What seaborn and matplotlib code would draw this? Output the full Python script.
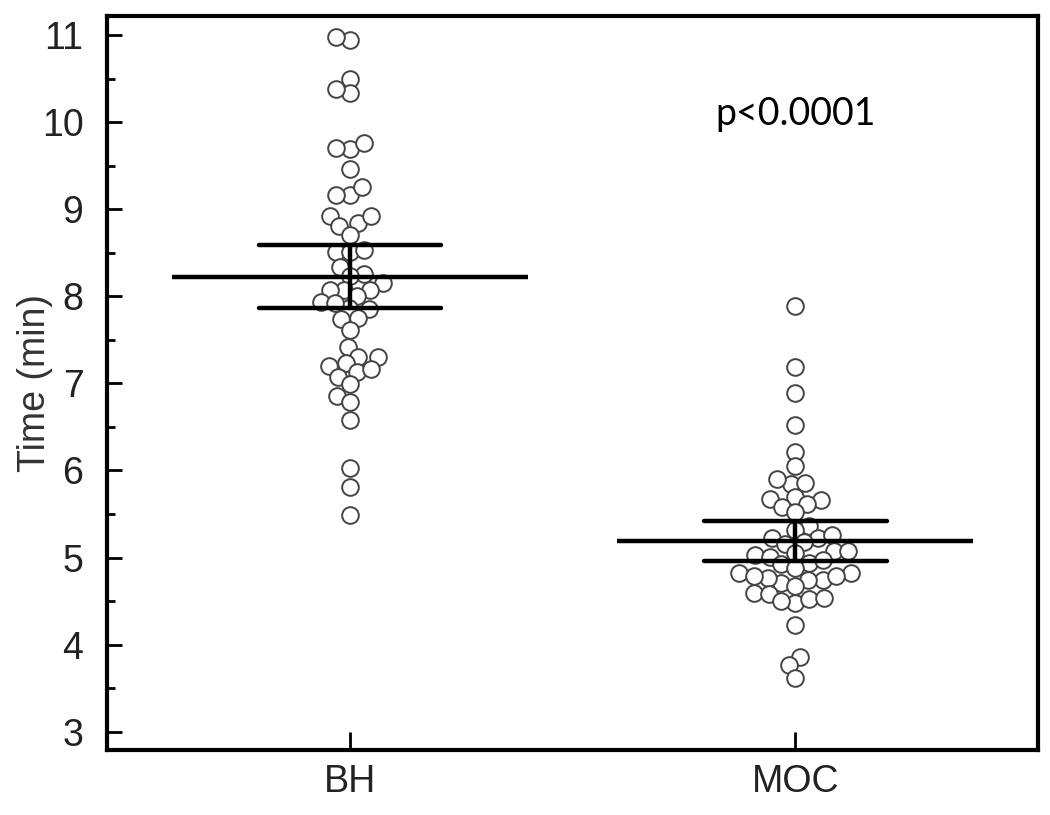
import numpy as np
import pandas as pd
import matplotlib
matplotlib.use("Agg")
import matplotlib.pyplot as plt
import seaborn as sns
from matplotlib.ticker import MultipleLocator

# ---------------- data ----------------
groups = ["BH", "MOC"]
bh_times = [10.95, 10.98, 10.50, 10.34, 10.38, 9.70, 9.71, 9.76, 9.46, 9.17,
            9.17, 9.26, 8.84, 8.92, 8.93, 8.81, 8.71, 8.51, 8.51, 8.53,
            8.34, 8.26, 8.23, 8.15, 8.07, 8.07, 8.07, 8.00, 7.94, 7.86,
            7.87, 7.92, 7.74, 7.75, 7.62, 7.42, 7.31, 7.31, 7.23, 7.13,
            7.17, 7.20, 7.08, 6.99, 6.86, 6.79, 6.58, 6.03, 5.81, 5.49]
moc_times = [7.89, 7.19, 6.89, 6.52, 6.21, 6.05, 5.85, 5.86, 5.90, 5.66,
             5.67, 5.70, 5.58, 5.61, 5.52, 5.36, 5.32, 5.22, 5.22, 5.26,
             5.16, 5.18, 5.07, 5.08, 5.03, 5.05, 4.94, 4.97, 5.01, 4.92,
             4.82, 4.82, 4.71, 4.74, 4.74, 4.76, 4.79, 4.79, 4.88, 4.59,
             4.67, 4.58, 4.48, 4.50, 4.52, 4.53, 4.23, 3.86, 3.76, 3.62]
p_text = "p<0.0001"
y_label = "Time (min)"

df = pd.DataFrame({
    "group": ["BH"] * len(bh_times) + ["MOC"] * len(moc_times),
    "time": bh_times + moc_times,
})

# ---------------- style ----------------
sns.set_theme(style="ticks")
plt.rcParams["font.family"] = ["Liberation Sans", "DejaVu Sans"]

DPI = 100
fig = plt.figure(figsize=(10.5, 8.15), dpi=DPI, facecolor="white")
ax = fig.add_axes([0.102, 0.080, 0.887, 0.900])
ax.set_facecolor("white")

XLIM = (-0.546, 1.546)
YLIM = (2.79, 11.22)

# swarm of individual points
sns.swarmplot(data=df, x="group", y="time", order=groups, size=8.5,
              color="white", edgecolor="#444444", linewidth=1.4,
              ax=ax, zorder=2)
swarm_colls = list(ax.collections)

ax.set_xlim(*XLIM)
ax.set_ylim(*YLIM)
fig.canvas.draw()
# freeze swarm layout, then enlarge markers so they overlap as in the original
for coll in swarm_colls:
    if "draw" in coll.__dict__:
        del coll.draw
    coll.set_sizes([12.0 ** 2])


def ci95(v):
    v = np.asarray(v, dtype=float)
    m = v.mean()
    h = 2.01 * v.std(ddof=1) / np.sqrt(len(v))
    return (m - h, m + h)


unit_px = ax.get_window_extent().width / (XLIM[1] - XLIM[0])
mean_len_pt = 0.80 * unit_px * 72 / DPI

sns.pointplot(data=df, x="group", y="time", order=groups, errorbar=ci95,
              capsize=0.41, color="black", linestyle="none", marker="_",
              markersize=mean_len_pt, markeredgewidth=3.2,
              err_kws={"linewidth": 3.2}, ax=ax, zorder=3)

ax.set_xlim(*XLIM)
ax.set_ylim(*YLIM)

# ---------------- axes ----------------
ax.yaxis.set_major_locator(MultipleLocator(1))
ax.yaxis.set_minor_locator(MultipleLocator(0.5))
ax.tick_params(axis="y", which="major", direction="in", length=11, width=2,
               labelsize=27, pad=17, colors="black", labelcolor="#222222")
ax.tick_params(axis="y", which="minor", direction="in", length=5.5, width=2,
               colors="black")
ax.tick_params(axis="x", which="major", direction="in", length=13, width=2,
               labelsize=27, pad=10, colors="black", labelcolor="#222222")
for s in ax.spines.values():
    s.set_visible(True)
    s.set_linewidth(3)
    s.set_color("black")
ax.grid(False)

ax.set_xlabel("")
ax.set_ylabel(y_label, fontsize=27, color="#333333", labelpad=-8)

ax.text(1.0, 10.10, p_text, ha="center", va="center", fontsize=27,
        family=["Lato", "DejaVu Sans"], color="black")

fig.savefig("out.png", dpi=DPI, facecolor="white")
